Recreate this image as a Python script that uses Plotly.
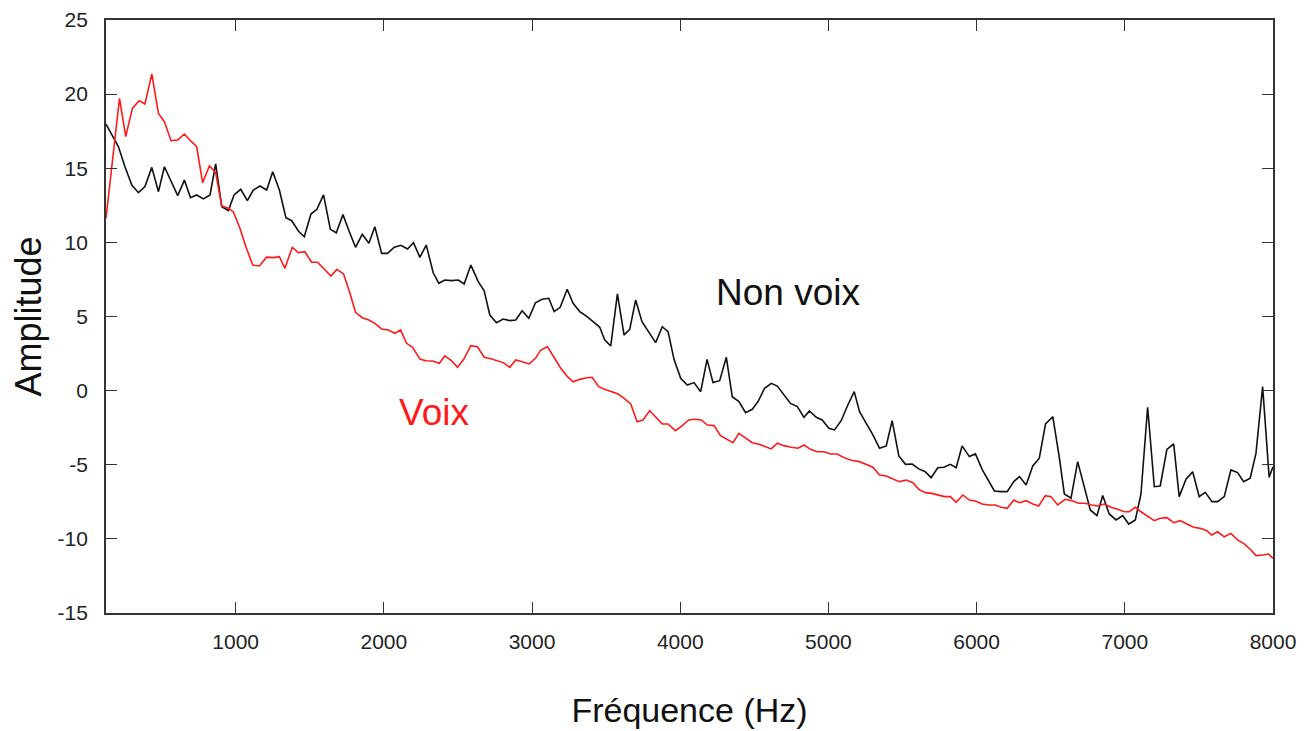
import plotly.graph_objects as go

# Non voix (black) spectrum
nv_freq = [125, 209, 253, 299, 344, 388, 434, 479, 519, 564, 609, 654, 695, 737, 782, 827, 865, 906, 951, 989,
           1034, 1079, 1119, 1164, 1209, 1250, 1295, 1339, 1378, 1423, 1463, 1508, 1548, 1593, 1639, 1679, 1724, 1767, 1809, 1854,
           1899, 1939, 1985, 2025, 2070, 2115, 2160, 2200, 2243, 2286, 2333, 2371, 2411, 2456, 2502, 2542, 2587, 2637, 2677, 2715,
           2760, 2805, 2850, 2890, 2933, 2978, 3023, 3068, 3113, 3149, 3190, 3237, 3277, 3322, 3367, 3412, 3457, 3490, 3531, 3576,
           3621, 3659, 3699, 3742, 3783, 3834, 3879, 3918, 3958, 4003, 4048, 4093, 4138, 4181, 4221, 4266, 4311, 4351, 4396, 4441,
           4486, 4525, 4569, 4614, 4655, 4700, 4744, 4790, 4835, 4872, 4918, 4958, 5003, 5041, 5086, 5131, 5174, 5210, 5255, 5300,
           5345, 5390, 5430, 5475, 5520, 5565, 5610, 5653, 5693, 5738, 5779, 5823, 5862, 5902, 5951, 5992, 6037, 6082, 6120, 6165,
           6206, 6251, 6289, 6334, 6379, 6423, 6465, 6514, 6558, 6592, 6637, 6682, 6723, 6767, 6812, 6851, 6895, 6941, 6986, 7026,
           7071, 7109, 7154, 7199, 7239, 7284, 7330, 7367, 7413, 7458, 7502, 7543, 7588, 7626, 7671, 7716, 7761, 7802, 7846, 7885,
           7930, 7974, 8000]
nv_amp = [17.98, 16.45, 15.1, 13.87, 13.35, 13.76, 15.06, 13.42, 15.1, 14.09, 13.15, 14.2, 13.01, 13.2, 12.93, 13.2, 15.29, 12.41, 12.15, 13.2,
          13.58, 12.81, 13.53, 13.8, 13.53, 14.77, 13.53, 11.67, 11.46, 10.77, 10.38, 11.91, 12.23, 13.2, 10.88, 10.65, 11.87, 10.72, 9.67, 10.54,
          9.94, 11.06, 9.26, 9.26, 9.67, 9.8, 9.55, 9.98, 8.99, 9.82, 7.95, 7.24, 7.46, 7.42, 7.46, 7.19, 8.47, 7.35, 6.74, 5.1,
          4.58, 4.83, 4.72, 4.76, 5.39, 4.88, 5.93, 6.16, 6.23, 5.33, 5.62, 6.84, 5.89, 5.33, 5.03, 4.65, 4.27, 3.42, 3.01, 6.52,
          3.75, 4.13, 6.11, 4.65, 3.98, 3.24, 4.31, 3.98, 2.11, 0.83, 0.38, 0.54, -0.07, 2.11, 0.54, 0.67, 2.25, -0.41, -0.74, -1.49,
          -1.26, -0.74, 0.16, 0.49, 0.31, -0.29, -0.86, -1.08, -1.8, -1.37, -1.8, -1.98, -2.54, -2.65, -2.03, -0.97, -0.07, -1.42, -2.2, -2.99,
          -3.89, -3.73, -2.03, -4.41, -4.97, -4.95, -5.28, -5.47, -5.87, -5.2, -5.17, -4.97, -5.2, -3.73, -4.45, -4.27, -5.31, -6.14, -6.77, -6.81,
          -6.81, -6.14, -5.8, -6.36, -5.08, -4.56, -2.25, -1.76, -4.5, -6.97, -7.26, -4.79, -6.36, -8.05, -8.43, -7.08, -8.32, -8.72, -8.43, -9.0,
          -8.72, -6.97, -1.12, -6.48, -6.43, -3.96, -3.6, -7.15, -5.98, -5.47, -7.15, -6.86, -7.49, -7.49, -7.15, -5.35, -5.53, -6.14, -5.91, -4.23,
          0.27, -5.85, -5.13]

# Voix (red) spectrum
v_freq = [125, 169, 216, 258, 303, 348, 388, 434, 479, 519, 564, 609, 654, 695, 737, 777, 823, 865, 906, 951,
          984, 1029, 1069, 1115, 1160, 1209, 1254, 1295, 1332, 1382, 1423, 1467, 1512, 1553, 1598, 1643, 1683, 1728, 1771, 1809,
          1854, 1899, 1939, 1985, 2030, 2074, 2113, 2153, 2194, 2243, 2283, 2328, 2374, 2411, 2456, 2497, 2539, 2587, 2632, 2677,
          2722, 2767, 2805, 2850, 2890, 2935, 2980, 3023, 3059, 3104, 3149, 3194, 3239, 3277, 3322, 3367, 3405, 3450, 3490, 3535,
          3581, 3621, 3666, 3709, 3749, 3794, 3834, 3879, 3918, 3967, 4012, 4057, 4097, 4142, 4183, 4228, 4272, 4318, 4356, 4396,
          4441, 4486, 4531, 4569, 4614, 4655, 4700, 4749, 4794, 4835, 4879, 4924, 4970, 5014, 5059, 5105, 5154, 5210, 5255, 5300,
          5345, 5390, 5435, 5479, 5525, 5570, 5610, 5653, 5698, 5738, 5783, 5823, 5862, 5907, 5951, 5992, 6037, 6082, 6125, 6165,
          6206, 6251, 6289, 6334, 6379, 6419, 6464, 6502, 6547, 6597, 6642, 6686, 6732, 6777, 6817, 6862, 6907, 6952, 6997, 7030,
          7071, 7109, 7154, 7199, 7239, 7284, 7330, 7374, 7419, 7465, 7509, 7554, 7586, 7626, 7671, 7716, 7761, 7806, 7851, 7885,
          7930, 7970, 8000]
v_amp = [11.62, 15.56, 19.72, 17.13, 19.04, 19.56, 19.33, 21.36, 18.7, 18.14, 16.86, 16.91, 17.31, 16.86, 16.45, 14.03, 15.15, 14.7, 12.45, 12.3,
         12.07, 10.95, 9.71, 8.47, 8.41, 9.0, 8.97, 9.04, 8.25, 9.67, 9.31, 9.37, 8.66, 8.66, 8.18, 7.73, 8.18, 7.87, 6.57, 5.28,
         4.92, 4.76, 4.54, 4.16, 4.09, 3.87, 4.09, 3.19, 2.92, 2.13, 2.02, 2.0, 1.84, 2.34, 2.02, 1.57, 2.11, 3.03, 2.96, 2.25,
         2.15, 2.02, 1.89, 1.57, 2.07, 1.95, 1.8, 2.18, 2.74, 2.96, 2.25, 1.51, 0.94, 0.6, 0.76, 0.87, 0.9, 0.27, 0.09, -0.07,
         -0.23, -0.52, -0.9, -2.1, -1.98, -1.35, -1.76, -2.25, -2.25, -2.7, -2.38, -1.98, -1.93, -1.98, -2.32, -2.36, -3.04, -3.28, -3.51, -2.88,
         -3.21, -3.51, -3.62, -3.78, -3.93, -3.55, -3.71, -3.82, -3.89, -3.67, -3.96, -4.12, -4.12, -4.27, -4.27, -4.52, -4.7, -4.79, -4.97, -5.17,
         -5.69, -5.76, -5.96, -6.14, -6.03, -6.21, -6.66, -6.88, -6.93, -7.04, -7.15, -7.15, -7.53, -7.04, -7.38, -7.44, -7.65, -7.71, -7.71, -7.87,
         -7.94, -7.38, -7.56, -7.42, -7.65, -7.78, -7.08, -7.15, -7.71, -7.33, -7.42, -7.6, -7.6, -7.71, -7.78, -7.65, -7.87, -8.0, -8.17, -8.17,
         -7.87, -8.17, -8.5, -8.77, -8.61, -8.57, -8.91, -8.77, -9.0, -9.22, -9.29, -9.45, -9.74, -9.52, -9.86, -9.63, -10.07, -10.34, -10.75, -11.13,
         -11.09, -11.02, -11.31]

x_ticks = [1000, 2000, 3000, 4000, 5000, 6000, 7000, 8000]
x_labels = ["1000", "2000", "3000", "4000", "5000", "6000", "7000", "8000"]
y_ticks = [-15, -10, -5, 0, 5, 10, 15, 20, 25]
y_labels = ["-15", "-10", "-5", "0", "5", "10", "15", "20", "25"]

FONT = "Liberation Sans, Arial, Helvetica, sans-serif"

fig = go.Figure()
fig.add_trace(go.Scatter(x=nv_freq, y=nv_amp, mode="lines", name="Non voix",
                         line=dict(color="#111111", width=1.6)))
fig.add_trace(go.Scatter(x=v_freq, y=v_amp, mode="lines", name="Voix",
                         line=dict(color="#ff1a1a", width=1.6)))

axis_common = dict(showgrid=False, zeroline=False, showline=True, linecolor="#333333", linewidth=1.8,
                   mirror="ticks", ticks="inside", ticklen=11, tickwidth=1.3, tickcolor="#333333",
                   automargin=False, ticklabeloverflow="allow",
                   tickfont=dict(family=FONT, size=21, color="#222222"))

fig.update_xaxes(range=[125, 8000], tickvals=x_ticks, ticktext=x_labels, ticklabelstandoff=9,
                 title=dict(text="Fréquence (Hz)", font=dict(family=FONT, size=34, color="#111111"), standoff=46),
                 **axis_common)
fig.update_yaxes(range=[-15, 25], tickvals=y_ticks, ticktext=y_labels, ticklabelstandoff=12,
                 title=dict(text="Amplitude", font=dict(family=FONT, size=36, color="#111111"), standoff=16),
                 **axis_common)

fig.add_annotation(x=4729, y=6.6, text="Non voix", showarrow=False,
                   font=dict(family=FONT, size=37, color="#111111"))
fig.add_annotation(x=2335, y=-1.5, text="Voix", showarrow=False,
                   font=dict(family=FONT, size=37, color="#ff1a1a"))

fig.update_layout(width=1315, height=731, showlegend=False,
                  plot_bgcolor="white", paper_bgcolor="white",
                  margin=dict(l=98, r=50, t=12, b=126))

fig.write_html("out.html")
